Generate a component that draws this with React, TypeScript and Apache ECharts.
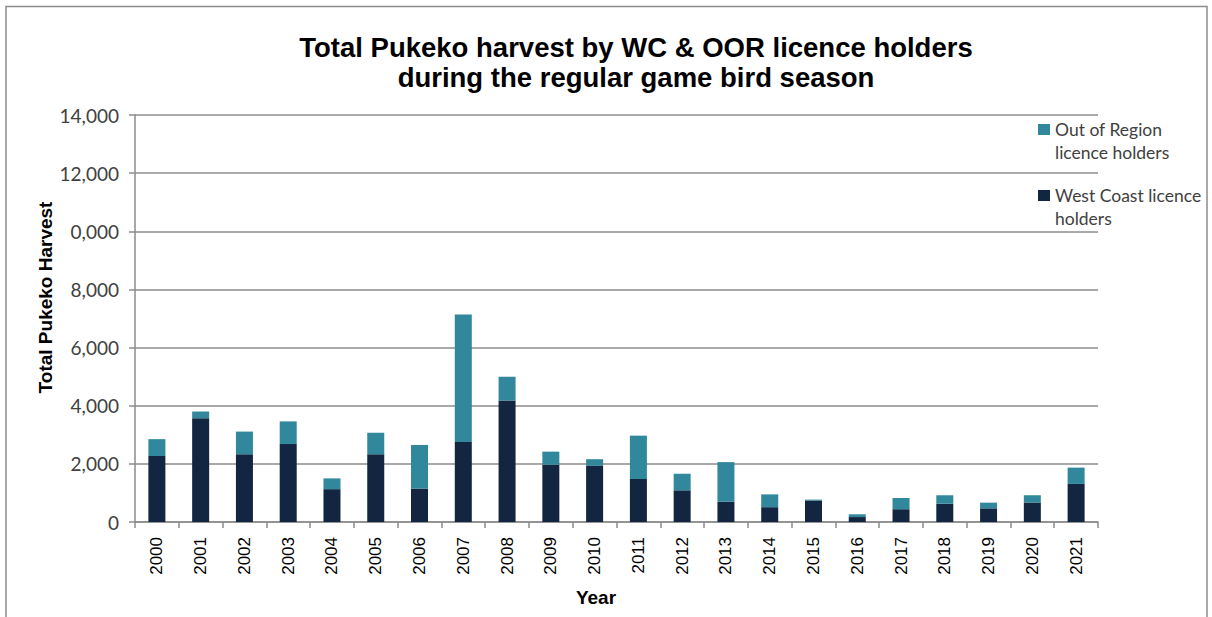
import React, { useEffect, useRef } from "react";
import * as echarts from "echarts";

const years = ["2000","2001","2002","2003","2004","2005","2006","2007","2008","2009","2010","2011","2012","2013","2014","2015","2016","2017","2018","2019","2020","2021"];
const westCoast = [2270,3570,2330,2680,1130,2330,1150,2750,4180,1970,1940,1480,1090,700,510,740,170,440,630,470,670,1310];
const outOfRegion = [580,230,780,780,370,740,1500,4390,820,450,220,1490,570,1360,440,30,95,385,290,195,250,560];
const yTickLabels: Record<number, string> = { 0: "0", 2000: "2,000", 4000: "4,000", 6000: "6,000", 8000: "8,000", 10000: "0,000", 12000: "12,000", 14000: "14,000" };

const WC_COLOR = "#122641";
const OOR_COLOR = "#31879C";
const OOR_NAME = "Out of Region\nlicence holders";
const WC_NAME = "West Coast licence\nholders";

export default function App() {
  const ref = useRef<HTMLDivElement>(null);
  useEffect(() => {
    if (!ref.current) return;
    const chart = echarts.init(ref.current, null, { renderer: "svg" });
    chart.setOption({
      animation: false,
      backgroundColor: "#fff",
      title: {
        text: "Total Pukeko harvest by WC & OOR licence holders\nduring the regular game bird season",
        left: 636,
        textAlign: "center",
        top: 32,
        padding: 0,
        textStyle: { fontFamily: "Liberation Sans", fontWeight: "bold", fontSize: 27.5, lineHeight: 30, color: "#000" },
      },
      legend: {
        orient: "vertical",
        left: 1038,
        top: 95,
        padding: 0,
        itemWidth: 12,
        itemHeight: 11,
        itemGap: -3,
        icon: "rect",
        data: [OOR_NAME, WC_NAME],
        formatter: (name: string) => "\n" + name,
        textStyle: { fontFamily: "Lato", fontSize: 17.5, lineHeight: 23, color: "#404040" },
      },
      grid: { left: 135, right: 114, top: 115, bottom: 95 },
      xAxis: {
        type: "category",
        data: years,
        name: "Year",
        nameLocation: "middle",
        nameGap: 66,
        nameMoveOverlap: false,
        nameTextStyle: { fontFamily: "Liberation Sans", fontWeight: "bold", fontSize: 19, color: "#000", padding: [0, 41, 0, 0] },
        axisLine: { lineStyle: { color: "#8c8c8c", width: 1.5 } },
        axisTick: { show: true, length: 6, lineStyle: { color: "#8c8c8c", width: 1.5 } },
        axisLabel: { rotate: 90, fontFamily: "Liberation Sans", fontSize: 17, color: "#000", margin: 15 },
      },
      yAxis: {
        type: "value",
        min: 0,
        max: 14000,
        interval: 2000,
        name: "Total Pukeko Harvest",
        nameLocation: "middle",
        nameGap: 80,
        nameMoveOverlap: false,
        nameTextStyle: { fontFamily: "Liberation Sans", fontWeight: "bold", fontSize: 19, color: "#000", padding: [0, 0, 0, 42] },
        axisLine: { show: true, lineStyle: { color: "#8c8c8c", width: 1.5 } },
        axisTick: { show: true, length: 6, lineStyle: { color: "#8c8c8c", width: 1.5 } },
        axisLabel: {
          fontFamily: "Lato",
          fontSize: 19,
          color: "#404040",
          margin: 16,
          formatter: (v: number) => yTickLabels[v] ?? String(v),
        },
        splitLine: { lineStyle: { color: "#8c8c8c", width: 1.5 } },
      },
      series: [
        {
          name: WC_NAME,
          type: "bar",
          stack: "total",
          data: westCoast,
          barWidth: 17,
          itemStyle: { color: WC_COLOR },
        },
        {
          name: OOR_NAME,
          type: "bar",
          stack: "total",
          data: outOfRegion,
          barWidth: 17,
          itemStyle: { color: OOR_COLOR },
        },
      ],
      graphic: [
        {
          type: "rect",
          shape: { x: 6, y: 6.5, width: 1201, height: 620 },
          style: { fill: "none", stroke: "#8c8c8c", lineWidth: 1.5 },
          silent: true,
        },
      ],
    });
    return () => chart.dispose();
  }, []);
  return <div ref={ref} style={{ position: "fixed", left: 0, top: 0, width: 1212, height: 617 }} />;
}
